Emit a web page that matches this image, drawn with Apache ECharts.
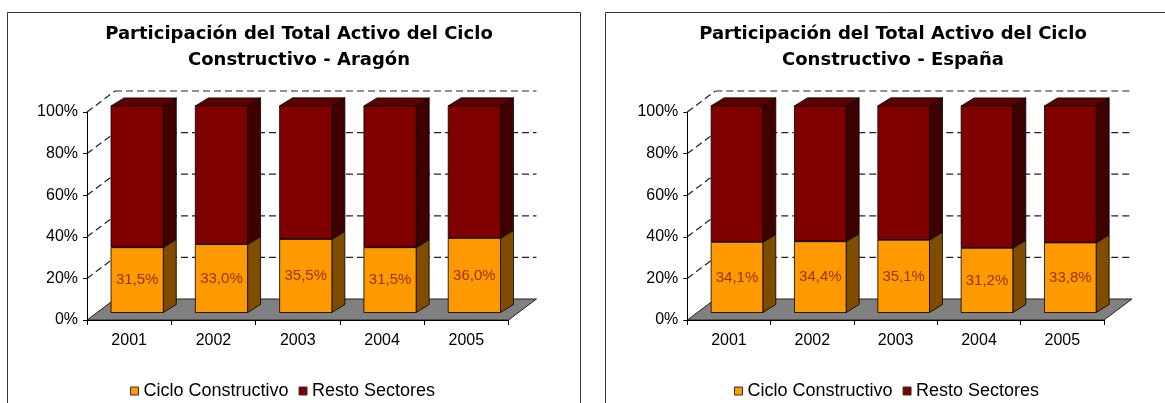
<!DOCTYPE html>
<html>
<head>
<meta charset="utf-8">
<script src="https://cdn.jsdelivr.net/npm/echarts@6/dist/echarts.min.js"></script>
<style>
  html, body { margin: 0; padding: 0; background: #fff; }
  #chart { width: 1165px; height: 403px; }
</style>
</head>
<body>
<div id="chart"></div>
<script>
'use strict';

// data
const years = ['2001', '2002', '2003', '2004', '2005'];
const yTicks = [0, 20, 40, 60, 80, 100];
const aragonCiclo = [31.5, 33.0, 35.5, 31.5, 36.0];
const aragonResto = [68.5, 67.0, 64.5, 68.5, 64.0];
const espanaCiclo = [34.1, 34.4, 35.1, 31.2, 33.8];
const espanaResto = [65.9, 65.6, 64.9, 68.8, 66.2];

// fake 3d look (pixels)
const WALL_DX = 28, WALL_DY = -21;
const FRONT_DX = 8, FRONT_DY = -7.5;
const BAR_DX = 13, BAR_DY = -8;

const orange = { front: '#FF9900', side: '#7F4C00', top: '#CC7A00' };
const red = { front: '#800000', side: '#400000', top: '#5E0000' };
const textFont = '"Liberation Sans", Arial, sans-serif';

function fmt(v) {
    return v.toFixed(1).replace('.', ',') + '%';
}

function wallSeries(idx) {
    return {
        type: 'custom',
        name: 'wall' + idx,
        xAxisIndex: idx,
        yAxisIndex: idx,
        z: 1,
        silent: true,
        data: yTicks.map(v => [0, v]),
        renderItem: function (params, api) {
            let v = api.value(1);
            let band = api.size([1, 0])[0];
            let p0 = api.coord([0, v]);
            let p1 = api.coord([years.length - 1, v]);
            let xl = p0[0] - band / 2, xr = p1[0] + band / 2, y = p0[1];
            if (v === 0) {
                return {
                    type: 'polygon',
                    shape: { points: [[xl, y], [xr, y], [xr + WALL_DX, y + WALL_DY], [xl + WALL_DX, y + WALL_DY]] },
                    style: { fill: '#808080', stroke: '#222', lineWidth: 1 }
                };
            }
            let dash = { stroke: '#222', lineWidth: 1.2, lineDash: [7, 4] };
            return {
                type: 'group',
                children: [
                    { type: 'line', shape: { x1: xl + WALL_DX, y1: y + WALL_DY, x2: xr + WALL_DX, y2: y + WALL_DY }, style: dash },
                    { type: 'line', shape: { x1: xl, y1: y, x2: xl + WALL_DX, y2: y + WALL_DY }, style: dash }
                ]
            };
        }
    };
}

function barSeries(name, idx, lows, highs, colors, withLabel) {
    return {
        type: 'custom',
        name: name,
        xAxisIndex: idx,
        yAxisIndex: idx,
        z: 2,
        itemStyle: { color: colors.front },
        encode: { x: 0, y: [1, 2] },
        data: highs.map((h, i) => [i, lows[i], h]),
        renderItem: function (params, api) {
            let i = api.value(0);
            let lo = api.value(1), hi = api.value(2);
            let bw = api.size([1, 0])[0] * 0.62;
            let c0 = api.coord([i, lo]);
            let c1 = api.coord([i, hi]);
            let x = c0[0] - bw / 2 + FRONT_DX;
            let yb = c0[1] + FRONT_DY;
            let yt = c1[1] + FRONT_DY + (c0[1] - c1[1]) * 0.01;
            let edge = { stroke: '#000', lineWidth: 0.8 };
            let children = [
                {
                    type: 'polygon',
                    shape: { points: [[x + bw, yb], [x + bw + BAR_DX, yb + BAR_DY], [x + bw + BAR_DX, yt + BAR_DY], [x + bw, yt]] },
                    style: Object.assign({ fill: colors.side }, edge)
                },
                {
                    type: 'polygon',
                    shape: { points: [[x, yt], [x + BAR_DX, yt + BAR_DY], [x + bw + BAR_DX, yt + BAR_DY], [x + bw, yt]] },
                    style: Object.assign({ fill: colors.top }, edge)
                },
                {
                    type: 'rect',
                    shape: { x: x, y: yt, width: bw, height: yb - yt },
                    style: Object.assign({ fill: colors.front }, edge)
                }
            ];
            if (withLabel) {
                children.push({
                    type: 'text',
                    x: x + bw / 2,
                    y: (yb + yt) / 2,
                    style: {
                        text: fmt(hi - lo),
                        fill: '#993300',
                        font: '15px ' + textFont,
                        align: 'center',
                        verticalAlign: 'middle'
                    }
                });
            }
            return { type: 'group', children: children };
        }
    };
}

function xAxis(idx) {
    return {
        type: 'category',
        gridIndex: idx,
        data: years,
        z: 5,
        axisLine: { lineStyle: { color: '#000', width: 1 } },
        axisTick: { show: true, length: 5, lineStyle: { color: '#000' } },
        axisLabel: { color: '#000', fontSize: 16, fontFamily: textFont, margin: 13 },
        splitLine: { show: false }
    };
}

function yAxis(idx) {
    return {
        type: 'value',
        gridIndex: idx,
        min: 0,
        max: 100,
        interval: 20,
        z: 5,
        axisLine: { show: true, lineStyle: { color: '#000', width: 1 } },
        axisTick: { show: true, length: 4, lineStyle: { color: '#000' } },
        axisLabel: { color: '#000', fontSize: 16, fontFamily: textFont, margin: 9, formatter: '{value}%' },
        splitLine: { show: false }
    };
}

function title(text, x) {
    return {
        text: text,
        left: x,
        top: 16,
        textAlign: 'center',
        textStyle: { fontFamily: '"DejaVu Sans", sans-serif', fontWeight: 'bold', fontSize: 18, lineHeight: 26, color: '#000' }
    };
}

function legend(x) {
    return {
        left: x,
        top: 377,
        icon: 'rect',
        itemWidth: 8,
        itemHeight: 8,
        itemGap: 10,
        data: ['Ciclo Constructivo', 'Resto Sectores'],
        itemStyle: { borderColor: '#333', borderWidth: 1 },
        textStyle: { fontSize: 18, fontFamily: textFont, color: '#000' },
        selectedMode: false
    };
}

let instance = echarts.init(document.getElementById('chart'));
instance.setOption({
    animation: false,
    tooltip: { show: false },
    title: [
        title('Participación del Total Activo del Ciclo\nConstructivo - Aragón', 294),
        title('Participación del Total Activo del Ciclo\nConstructivo - España', 888)
    ],
    legend: [legend(125), legend(729)],
    graphic: [
        { type: 'rect', shape: { x: 7.5, y: 12.5, width: 573, height: 400 }, style: { fill: 'none', stroke: '#333', lineWidth: 1 }, silent: true },
        { type: 'rect', shape: { x: 605.5, y: 12.5, width: 570, height: 400 }, style: { fill: 'none', stroke: '#333', lineWidth: 1 }, silent: true }
    ],
    grid: [
        { left: 87, width: 421.5, top: 112, bottom: 83 },
        { left: 687.3, width: 416.7, top: 112, bottom: 83 }
    ],
    xAxis: [xAxis(0), xAxis(1)],
    yAxis: [yAxis(0), yAxis(1)],
    series: [
        wallSeries(0),
        barSeries('Ciclo Constructivo', 0, [0, 0, 0, 0, 0], aragonCiclo, orange, true),
        barSeries('Resto Sectores', 0, aragonCiclo, aragonCiclo.map((c, i) => c + aragonResto[i]), red, false),
        wallSeries(1),
        barSeries('Ciclo Constructivo', 1, [0, 0, 0, 0, 0], espanaCiclo, orange, true),
        barSeries('Resto Sectores', 1, espanaCiclo, espanaCiclo.map((c, i) => c + espanaResto[i]), red, false)
    ]
});
window.onresize = () => {
    instance.resize();
};
</script>
</body>
</html>
